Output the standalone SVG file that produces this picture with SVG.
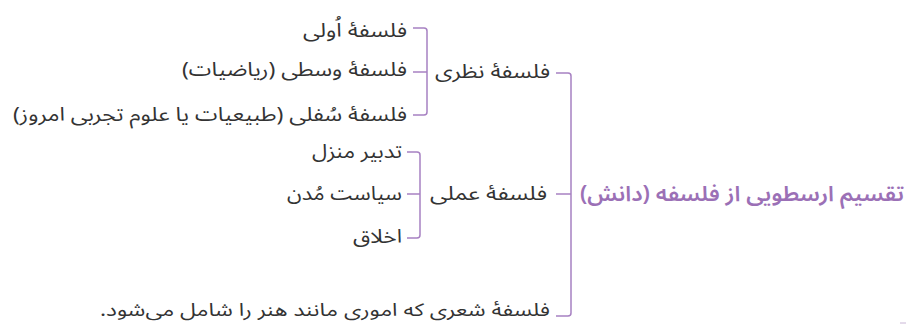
<svg xmlns="http://www.w3.org/2000/svg" width="911" height="324" viewBox="0 0 911 324">
<style>
.t{font-family:"Noto Sans Arabic","DejaVu Sans","Noto Sans",sans-serif;font-size:19px;fill:#333333;direction:rtl;text-anchor:start;}
.title{font-family:"Noto Sans Arabic","DejaVu Sans","Noto Sans",sans-serif;font-size:21px;font-weight:600;fill:#9b70b6;direction:rtl;text-anchor:start;}
.c{fill:none;stroke:#a781c2;stroke-width:1.5;stroke-linejoin:round;}
</style>
<rect width="911" height="324" fill="#ffffff"/>
<g id="connectors">
<path class="c" d="M556 73 H568 Q571 73 571 76 V313 Q571 316 568 316 H556"/>
<path class="c" d="M556 194 H571"/>
<path class="c" d="M413 28 H424 Q427 28 427 31 V112 Q427 115 424 115 H413"/>
<path class="c" d="M413 72 H427"/>
<path class="c" d="M407 152 H417 Q420 152 420 155 V235 Q420 238 417 238 H407"/>
<path class="c" d="M407 194 H420"/>
<path d="M900 323 H906" stroke="#c9b6d6" stroke-width="1"/>
</g>
<g id="root"><text class="title" x="904" y="201" textLength="324" lengthAdjust="spacingAndGlyphs">تقسیم ارسطویی از فلسفه (دانش)</text></g>
<g id="nazari"><text class="t" x="550" y="78" textLength="115" lengthAdjust="spacingAndGlyphs">فلسفهٔ نظری</text></g>
<g id="amali"><text class="t" x="547" y="200" textLength="117" lengthAdjust="spacingAndGlyphs">فلسفهٔ عملی</text></g>
<g id="sheri"><text class="t" x="550" y="316" textLength="450" lengthAdjust="spacingAndGlyphs" style="font-size:18px">فلسفهٔ شعری که اموری مانند هنر را شامل می‌شود.</text></g>
<g id="ola"><text class="t" x="407" y="37" textLength="104" lengthAdjust="spacingAndGlyphs">فلسفهٔ اُولی</text></g>
<g id="vosta"><text class="t" x="407" y="76" textLength="225" lengthAdjust="spacingAndGlyphs">فلسفهٔ وسطی (ریاضیات)</text></g>
<g id="sofla"><text class="t" x="407" y="121" textLength="394" lengthAdjust="spacingAndGlyphs">فلسفهٔ سُفلی (طبیعیات یا علوم تجربی امروز)</text></g>
<g id="manzel"><text class="t" x="402" y="158" textLength="90" lengthAdjust="spacingAndGlyphs">تدبیر منزل</text></g>
<g id="modon"><text class="t" x="402" y="200" textLength="115" lengthAdjust="spacingAndGlyphs">سیاست مُدن</text></g>
<g id="akhlagh"><text class="t" x="402" y="243" textLength="49" lengthAdjust="spacingAndGlyphs">اخلاق</text></g>
</svg>
